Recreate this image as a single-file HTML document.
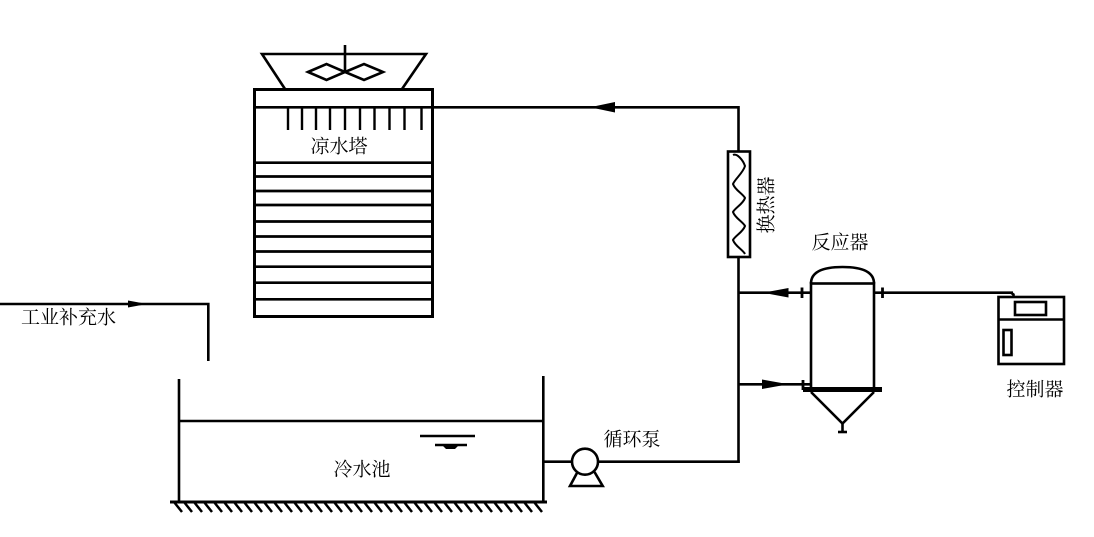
<!DOCTYPE html>
<html><head><meta charset="utf-8"><style>
html,body{margin:0;padding:0;background:#fff;}
svg{display:block;}
text{font-family:"Liberation Serif","Noto Serif CJK SC","Noto Sans CJK SC",serif;font-size:19px;fill:#000;}
</style></head><body>
<svg width="1094" height="537" viewBox="0 0 1094 537" xmlns="http://www.w3.org/2000/svg">
<g fill="none" stroke="#000" stroke-width="2.6" stroke-linecap="butt">
  <!-- Fan housing -->
  <polyline points="285,89 262,54 426,54 402,89"/>
  <line x1="345" y1="45" x2="345" y2="73"/>
  <polygon points="308,72 326.5,64 345,72 326.5,80"/>
  <polygon points="345,72 364,64 383,72 364,80"/>
  <!-- Tower -->
  <rect x="254.5" y="89.5" width="178" height="227" stroke-width="3"/>
  <line x1="254" y1="107.3" x2="738" y2="107.3"/>
  <g stroke-width="2.4">
    <line x1="288" y1="107" x2="288" y2="130"/>
    <line x1="302" y1="107" x2="302" y2="130"/>
    <line x1="316" y1="107" x2="316" y2="130"/>
    <line x1="330" y1="107" x2="330" y2="130"/>
    <line x1="345" y1="107" x2="345" y2="130"/>
    <line x1="360" y1="107" x2="360" y2="130"/>
    <line x1="374.5" y1="107" x2="374.5" y2="130"/>
    <line x1="389.5" y1="107" x2="389.5" y2="130"/>
    <line x1="404.5" y1="107" x2="404.5" y2="130"/>
    <line x1="421.5" y1="107" x2="421.5" y2="130"/>
  </g>
  <g stroke-width="2.7">
    <line x1="254" y1="162.7" x2="434" y2="162.7"/>
    <line x1="254" y1="176.5" x2="434" y2="176.5"/>
    <line x1="254" y1="191" x2="434" y2="191"/>
    <line x1="254" y1="205" x2="434" y2="205"/>
    <line x1="254" y1="221.5" x2="434" y2="221.5"/>
    <line x1="254" y1="236.5" x2="434" y2="236.5"/>
    <line x1="254" y1="251.5" x2="434" y2="251.5"/>
    <line x1="254" y1="266.7" x2="434" y2="266.7"/>
    <line x1="254" y1="282.7" x2="434" y2="282.7"/>
    <line x1="254" y1="299.3" x2="434" y2="299.3"/>
  </g>
  <!-- Right vertical pipe -->
  <line x1="738.5" y1="106" x2="738.5" y2="151"/>
  <line x1="738.5" y1="257" x2="738.5" y2="463"/>
  <!-- Heat exchanger -->
  <rect x="728" y="151.5" width="22" height="105.5"/>
  <path d="M733,155 C737,153 743,160 745,166 C743,173 735,179 733,184 C735,190 743,194 745,198 C743,204 735,208 733,212 C735,218 743,222 745,226 C743,232 735,236 733,240 C735,246 743,250 745,254" stroke-width="2"/>
  <!-- Reactor -->
  <path d="M811,283.5 Q811,267 842.5,267 Q874,267 874,283.5"/>
  <rect x="811" y="283.5" width="63" height="106"/>
  <line x1="803" y1="389.5" x2="882" y2="389.5" stroke-width="5"/>
  <polyline points="811,392 842.5,423.5 874,392"/>
  <line x1="842.5" y1="423" x2="842.5" y2="432"/>
  <line x1="838" y1="432" x2="847" y2="432"/>
  <!-- Reactor pipes -->
  <line x1="738" y1="292.7" x2="811" y2="292.7"/>
  <line x1="802" y1="287.5" x2="802" y2="298" stroke-width="2.8"/>
  <line x1="874" y1="292.7" x2="1013" y2="292.7"/>
  <line x1="882.5" y1="287.5" x2="882.5" y2="298" stroke-width="2.8"/>
  <polyline points="1011,292.7 1013.5,294.5 1013.5,297"/>
  <line x1="738" y1="384.3" x2="811" y2="384.3"/>
  <line x1="803" y1="380" x2="803" y2="390" stroke-width="2.8"/>
  <!-- Controller -->
  <rect x="998.5" y="297" width="65.5" height="67"/>
  <rect x="1015" y="302" width="31" height="13"/>
  <line x1="998.5" y1="319.5" x2="1064" y2="319.5"/>
  <rect x="1003.5" y="330" width="8" height="25"/>
  <!-- Pool -->
  <line x1="179" y1="379" x2="179" y2="502"/>
  <line x1="543.3" y1="376" x2="543.3" y2="502"/>
  <line x1="179" y1="421" x2="543" y2="421"/>
  <line x1="170" y1="502" x2="547" y2="502" stroke-width="3"/>
  <line x1="420" y1="436" x2="475" y2="436"/>
  <line x1="435" y1="445" x2="467" y2="445"/>
  <!-- Make-up water -->
  <polyline points="0,304 208.3,304 208.3,361"/>
  <!-- Pump pipes -->
  <line x1="543" y1="461.7" x2="572" y2="461.7"/>
  <line x1="598" y1="461.7" x2="739.8" y2="461.7"/>
  <circle cx="585" cy="461.7" r="13"/>
  <polyline points="577.5,472 570,486 602.7,486 594.5,472"/>
</g>
<!-- Hatching -->
<g stroke="#000" stroke-width="2.5">
  <line x1="174" y1="502" x2="182" y2="512"/>
  <line x1="184" y1="502" x2="192" y2="512"/>
  <line x1="194" y1="502" x2="202" y2="512"/>
  <line x1="204" y1="502" x2="212" y2="512"/>
  <line x1="214" y1="502" x2="222" y2="512"/>
  <line x1="224" y1="502" x2="232" y2="512"/>
  <line x1="234" y1="502" x2="242" y2="512"/>
  <line x1="244" y1="502" x2="252" y2="512"/>
  <line x1="254" y1="502" x2="262" y2="512"/>
  <line x1="264" y1="502" x2="272" y2="512"/>
  <line x1="274" y1="502" x2="282" y2="512"/>
  <line x1="284" y1="502" x2="292" y2="512"/>
  <line x1="294" y1="502" x2="302" y2="512"/>
  <line x1="304" y1="502" x2="312" y2="512"/>
  <line x1="314" y1="502" x2="322" y2="512"/>
  <line x1="324" y1="502" x2="332" y2="512"/>
  <line x1="334" y1="502" x2="342" y2="512"/>
  <line x1="344" y1="502" x2="352" y2="512"/>
  <line x1="354" y1="502" x2="362" y2="512"/>
  <line x1="364" y1="502" x2="372" y2="512"/>
  <line x1="374" y1="502" x2="382" y2="512"/>
  <line x1="384" y1="502" x2="392" y2="512"/>
  <line x1="394" y1="502" x2="402" y2="512"/>
  <line x1="404" y1="502" x2="412" y2="512"/>
  <line x1="414" y1="502" x2="422" y2="512"/>
  <line x1="424" y1="502" x2="432" y2="512"/>
  <line x1="434" y1="502" x2="442" y2="512"/>
  <line x1="444" y1="502" x2="452" y2="512"/>
  <line x1="454" y1="502" x2="462" y2="512"/>
  <line x1="464" y1="502" x2="472" y2="512"/>
  <line x1="474" y1="502" x2="482" y2="512"/>
  <line x1="484" y1="502" x2="492" y2="512"/>
  <line x1="494" y1="502" x2="502" y2="512"/>
  <line x1="504" y1="502" x2="512" y2="512"/>
  <line x1="514" y1="502" x2="522" y2="512"/>
  <line x1="524" y1="502" x2="532" y2="512"/>
  <line x1="534" y1="502" x2="542" y2="512"/>
</g>
<!-- Arrowheads & fills -->
<g fill="#000" stroke="none">
  <polygon points="590,107.3 615,102 615,112.5"/>
  <polygon points="763,292.7 788.5,288 788.5,297.5"/>
  <polygon points="788.5,384.3 762,379.5 762,389"/>
  <polygon points="147,304 128,300.5 128,307.5"/>
  <path d="M443,446 L458,446 L455,449 L446,449 Z"/>
</g>
<!-- Labels -->
<g text-anchor="middle" dominant-baseline="central">
  <text x="339" y="147">凉水塔</text>
  <text x="767" y="205" transform="rotate(-90 767 205)">换热器</text>
  <text x="840" y="243">反应器</text>
  <text x="1035" y="390">控制器</text>
  <text x="632" y="440">循环泵</text>
  <text x="362" y="470">冷水池</text>
  <text x="68.5" y="318">工业补充水</text>
</g>
</svg>
</body></html>
